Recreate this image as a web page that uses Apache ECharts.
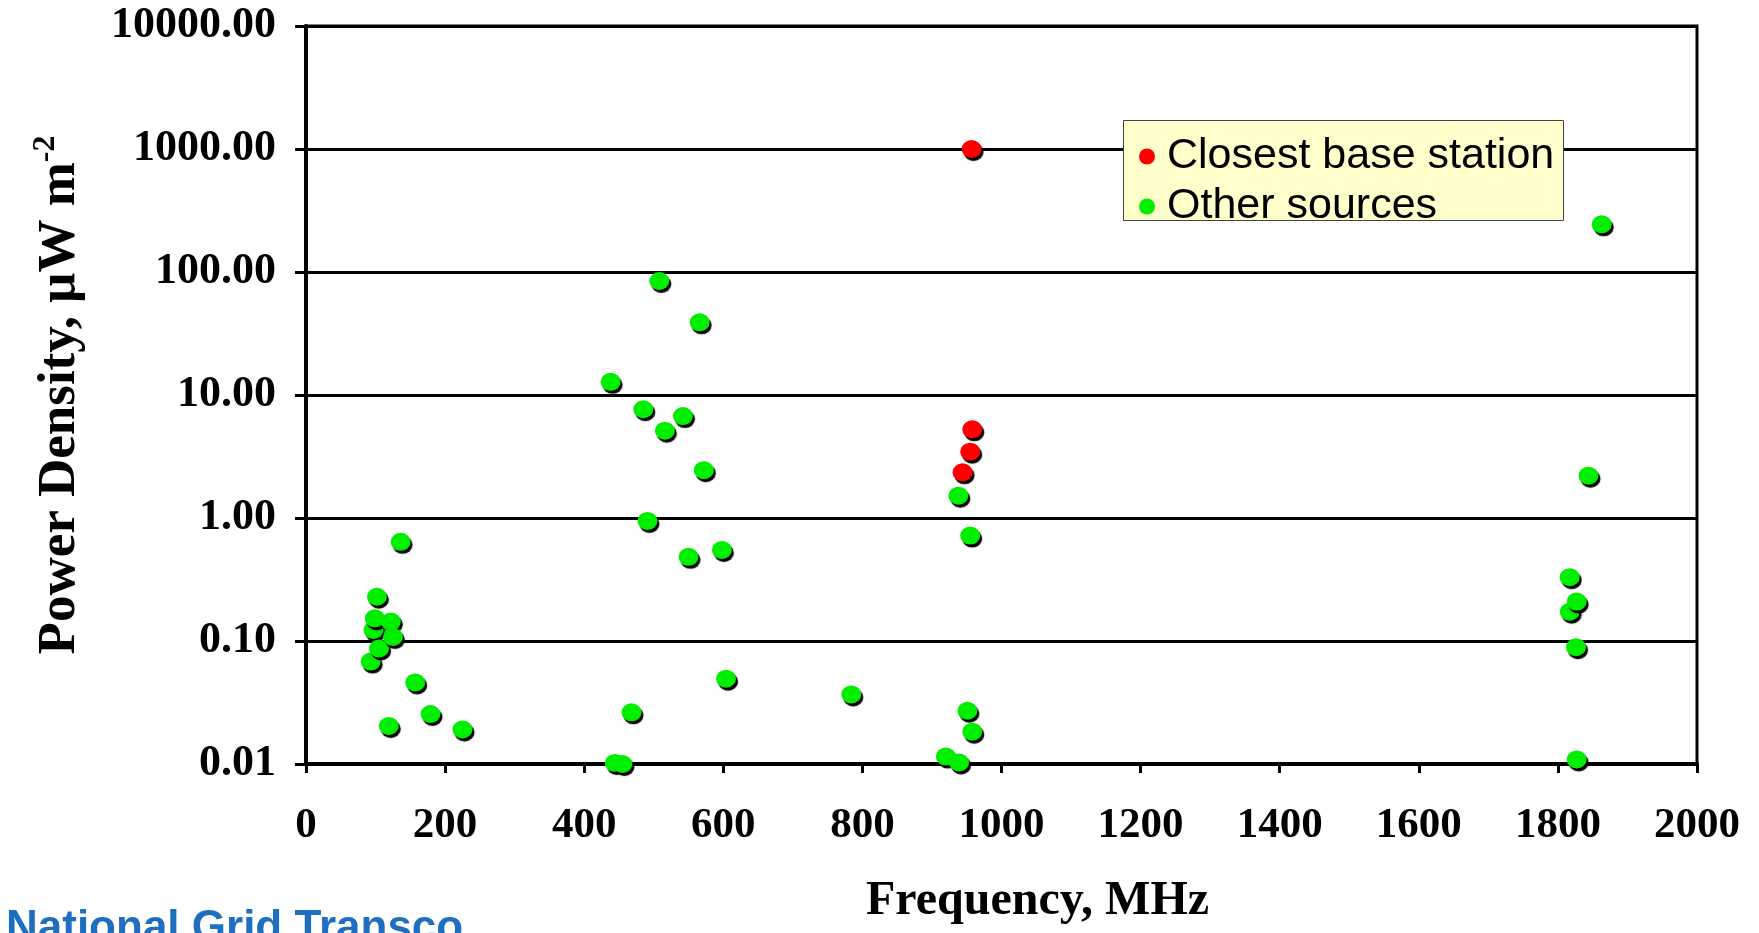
<!DOCTYPE html>
<html>
<head>
<meta charset="utf-8">
<script src="https://cdn.jsdelivr.net/npm/echarts@6/dist/echarts.min.js"></script>
<style>
html,body{margin:0;padding:0;background:#fff;}
#c{width:1759px;height:933px;}
</style>
</head>
<body>
<div id="c"></div>
<script>
// Frequency (MHz) and power density (µW m^-2)
const otherFreq = [93, 97, 99, 102, 105, 122, 125, 136, 157, 179, 119, 225,
  438, 444, 455, 468, 485, 491, 508, 516, 542, 550, 566, 572, 598, 604, 784,
  920, 938, 939, 951, 955, 958,
  1817, 1817, 1826, 1827, 1827, 1844, 1863];
const otherDensity = [0.068, 0.123, 0.153, 0.229, 0.087, 0.144, 0.108, 0.64, 0.046, 0.0255, 0.0204, 0.0191,
  12.8, 0.0102, 0.0100, 0.0263, 7.66, 0.946, 84.5, 5.13, 6.74, 0.484, 39.0, 2.45, 0.55, 0.0494, 0.0368,
  0.0115, 1.52, 0.0103, 0.0271, 0.72, 0.0183,
  0.33, 0.173, 0.089, 0.209, 0.0109, 2.21, 244];
const closestFreq = [957, 958, 955, 944];
const closestDensity = [1000, 5.26, 3.46, 2.35];

const seriesNames = ['Closest base station', 'Other sources'];
const xTicks = [0, 200, 400, 600, 800, 1000, 1200, 1400, 1600, 1800, 2000];
const yTicks = [0.01, 0.1, 1, 10, 100, 1000, 10000];

const toPairs = (xs, ys) => xs.map((x, i) => [x, ys[i]]);
const serif = 'Liberation Serif, Times New Roman, serif';
const sans = 'Liberation Sans, Arial, sans-serif';

const chart = echarts.init(document.getElementById('c'), null, {renderer: 'canvas'});
const dotStyle = (c) => ({
  color: c,
  shadowColor: '#000',
  shadowBlur: 1,
  shadowOffsetX: 2,
  shadowOffsetY: 3,
  opacity: 1
});
chart.setOption({
  backgroundColor: '#ffffff',
  animation: false,
  grid: {
    left: 306, right: 62, top: 26, bottom: 169,
    show: true, borderColor: '#000', borderWidth: 3, backgroundColor: 'transparent'
  },
  legend: {
    data: seriesNames,
    orient: 'vertical',
    left: 1139, top: 135,
    padding: 0,
    itemGap: 7,
    itemWidth: 30,
    itemHeight: 16,
    icon: 'circle',
    z: 6,
    itemStyle: {shadowBlur: 0, shadowOffsetX: 0, shadowOffsetY: 0, shadowColor: 'rgba(0,0,0,0)'},
    textStyle: {fontFamily: sans, fontSize: 43, color: '#000', lineHeight: 36}
  },
  xAxis: {
    type: 'value',
    min: xTicks[0], max: xTicks[xTicks.length - 1], interval: xTicks[1] - xTicks[0],
    axisLine: {show: true, onZero: false, lineStyle: {color: '#000', width: 4}},
    axisTick: {show: true, length: 9, inside: false, lineStyle: {color: '#000', width: 3}},
    splitLine: {show: false},
    axisLabel: {
      fontFamily: serif, fontWeight: 'bold', fontSize: 43, color: '#000', margin: 40,
      formatter: (v) => String(v)
    },
    name: 'Frequency, MHz',
    nameLocation: 'middle',
    nameGap: 114,
    nameTextStyle: {fontFamily: serif, fontWeight: 'bold', fontSize: 48, color: '#000', padding: [0, 0, 0, 72]}
  },
  yAxis: {
    type: 'log',
    logBase: 10,
    min: yTicks[0], max: yTicks[yTicks.length - 1],
    axisLine: {show: true, lineStyle: {color: '#000', width: 4}},
    axisTick: {show: true, length: 11, lineStyle: {color: '#000', width: 3}},
    minorTick: {show: false},
    splitLine: {show: true, lineStyle: {color: '#000', width: 3}},
    axisLabel: {
      fontFamily: serif, fontWeight: 'bold', fontSize: 44, color: '#000', margin: 30,
      formatter: (v) => Number(v).toFixed(2)
    },
    name: '{a|Power Density, μW m}{s|-2}',
    nameLocation: 'middle',
    nameRotate: 90,
    nameGap: 216,
    nameTextStyle: {
      color: '#000',
      rich: {
        a: {fontFamily: serif, fontWeight: 'bold', fontSize: 53, color: '#000', lineHeight: 60},
        s: {fontFamily: serif, fontWeight: 'bold', fontSize: 32, color: '#000', verticalAlign: 'top', lineHeight: 32}
      }
    }
  },
  series: [
    {
      name: seriesNames[1],
      type: 'scatter',
      symbol: 'circle',
      symbolSize: [20, 18],
      itemStyle: dotStyle('#00EE00'),
      data: toPairs(otherFreq, otherDensity),
      z: 3
    },
    {
      name: seriesNames[0],
      type: 'scatter',
      symbol: 'circle',
      symbolSize: [20, 18],
      itemStyle: dotStyle('#FF0000'),
      data: toPairs(closestFreq, closestDensity),
      z: 4
    }
  ],
  graphic: [
    {
      type: 'rect',
      left: 1123,
      top: 120,
      shape: {width: 440, height: 100},
      style: {fill: '#FFFFCC', stroke: '#444', lineWidth: 1},
      z: 5
    },
    {
      type: 'text',
      left: 6,
      top: 907,
      style: {
        text: 'National Grid Transco',
        fontFamily: sans,
        fontSize: 44,
        fontWeight: 'bold',
        fill: '#1f6fc0'
      },
      z: 10
    }
  ]
});
</script>
</body>
</html>
